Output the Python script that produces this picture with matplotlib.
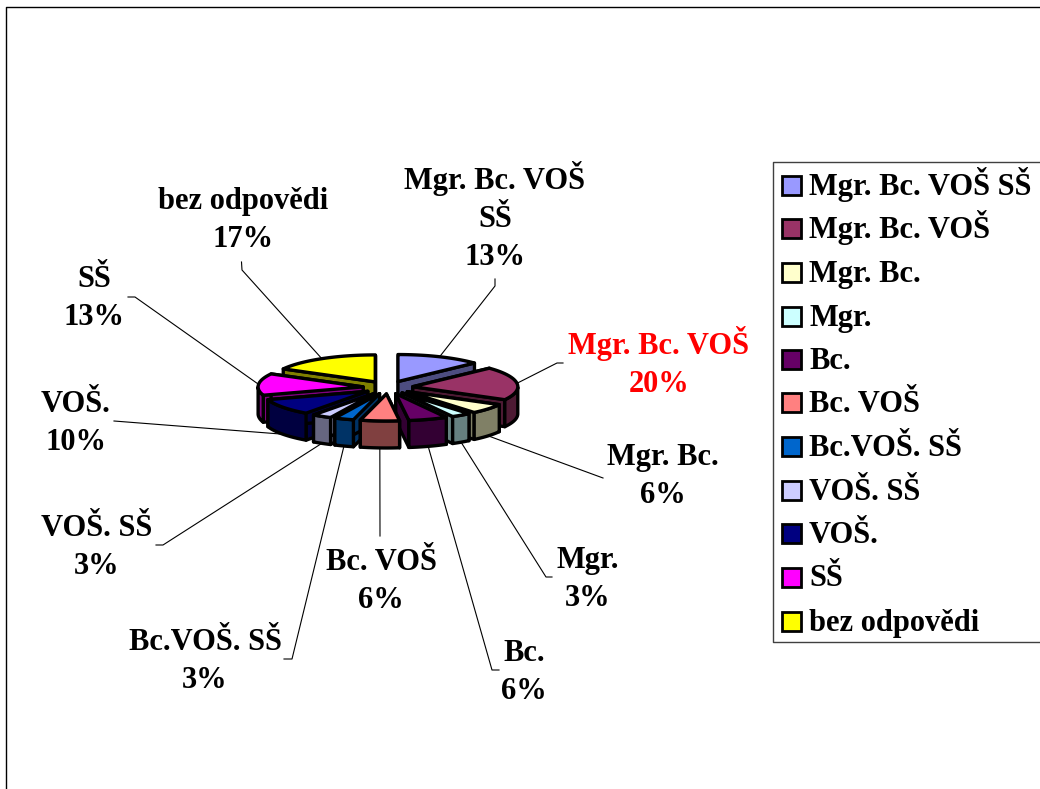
import numpy as np
import matplotlib
matplotlib.use('Agg')
import matplotlib.pyplot as plt
from matplotlib.patches import Polygon, Rectangle
from matplotlib.colors import to_rgb

categories = ['Mgr. Bc. VOŠ SŠ', 'Mgr. Bc. VOŠ', 'Mgr. Bc.', 'Mgr.', 'Bc.', 'Bc. VOŠ',
              'Bc.VOŠ. SŠ', 'VOŠ. SŠ', 'VOŠ.', 'SŠ', 'bez odpovědi']
values = [13, 20, 6, 3, 6, 6, 3, 3, 10, 13, 17]
colors = ['#9999FF', '#993366', '#FFFFCC', '#CCFFFF', '#660066', '#FF8080',
          '#0066CC', '#CCCCFF', '#000080', '#FF00FF', '#FFFF00']
pie_labels = ['Mgr. Bc. VOŠ\nSŠ\n13%', 'Mgr. Bc. VOŠ\n20%', 'Mgr. Bc.\n6%', 'Mgr.\n3%', 'Bc.\n6%',
              'Bc. VOŠ\n6%', 'Bc.VOŠ. SŠ\n3%', 'VOŠ. SŠ\n3%', 'VOŠ.\n10%', 'SŠ\n13%',
              'bez odpovědi\n17%']

# layout in pixels of the 1040x789 picture
CX, CY = 388, 387.5
RX, RY = 105, 27
EXPLODE_X, EXPLODE_Y = 25, 6.5
DEPTH = 27
FONT = 'Liberation Serif'
FONT_SIZE = 22
EDGE = 2.4
# label centre x and baseline of the last line
label_pos = [(495, 265), (659, 392), (663, 503), (588, 606), (524, 699), (381, 608),
             (205, 688), (97, 574), (76, 450), (94, 325), (243, 247)]
# where each leader line meets its label, elbow first when there is one
leader_ends = [[(495, 286), (495, 279)], [(557, 363), (563, 363)], [(603, 478)],
               [(546, 577), (552, 577)], [(492, 670), (499, 670)], [(380, 536)],
               [(292, 659), (284, 659)], [(163, 545), (156, 545)], [(114, 421)],
               [(135, 297), (128, 297)], [(242, 270), (241.5, 262)]]
legend_rows = [185, 228, 272, 316, 359.5, 402.5, 446.5, 490, 533.5, 577, 621.5]


def rim(theta, ox, oy):
    return ox + RX * np.sin(theta), oy - RY * np.cos(theta)


def draw_slice(ax, start, stop, color):
    mid = (start + stop) / 2
    ox = CX + EXPLODE_X * np.sin(mid)
    oy = CY - EXPLODE_Y * np.cos(mid)
    thetas = np.linspace(start, stop, 40)
    xs, ys = rim(thetas, ox, oy)
    top = np.column_stack([np.r_[ox, xs], np.r_[oy, ys]])
    side = tuple(c * 0.5 for c in to_rgb(color))
    style = dict(edgecolor='black', linewidth=EDGE, joinstyle='round', facecolor=side)
    # radial walls first, the top of the slice covers what is behind
    for x, y in ((xs[0], ys[0]), (xs[-1], ys[-1])):
        wall = [(ox, oy), (x, y), (x, y + DEPTH), (ox, oy + DEPTH)]
        ax.add_patch(Polygon(wall, closed=True, **style))
    # outer wall only for the part of the rim that faces the viewer
    front = thetas[np.cos(thetas) <= 0]
    if len(front) > 1:
        fx, fy = rim(front, ox, oy)
        outer = np.column_stack([np.r_[fx, fx[::-1]], np.r_[fy, fy[::-1] + DEPTH]])
        ax.add_patch(Polygon(outer, closed=True, **style))
    ax.add_patch(Polygon(top, closed=True, edgecolor='black', linewidth=EDGE,
                         joinstyle='round', facecolor=color))


def main():
    fig = plt.figure(figsize=(10.4, 7.89), dpi=100)
    ax = fig.add_axes([0, 0, 1, 1])
    ax.set_xlim(0, 1040)
    ax.set_ylim(789, 0)
    ax.axis('off')

    # outer chart frame, runs off the right and bottom of the picture
    ax.plot([5.5, 5.5, 1040], [789, 6.5, 6.5], color='black', lw=1)

    edges = np.cumsum([0] + values) / sum(values) * 2 * np.pi
    slices = list(zip(edges[:-1], edges[1:], colors))

    # leader lines, from the rim of each slice
    for (start, stop, _), ends in zip(slices, leader_ends):
        mid = (start + stop) / 2
        ox = CX + EXPLODE_X * np.sin(mid)
        oy = CY - EXPLODE_Y * np.cos(mid)
        x0, y0 = rim(mid, ox, oy)
        if np.cos(mid) < 0:
            y0 += DEPTH
        pts = [(x0, y0)] + ends
        ax.plot([p[0] for p in pts], [p[1] for p in pts], color='black', lw=0.8, zorder=1)

    # back to front
    for start, stop, color in sorted(slices, key=lambda s: -np.cos((s[0] + s[1]) / 2)):
        draw_slice(ax, start, stop, color)

    for i, (label, (x, y)) in enumerate(zip(pie_labels, label_pos)):
        ax.text(x, y, label, ha='center', va='baseline', family=FONT, weight='bold',
                fontsize=FONT_SIZE, linespacing=1.4, color='red' if i == 1 else 'black')

    # legend, box open at the right edge
    ax.plot([1040, 772.5, 772.5, 1040], [161.5, 161.5, 641.5, 641.5], color='#404040', lw=1)
    for name, color, y in zip(categories, colors, legend_rows):
        ax.add_patch(Rectangle((782, y - 9.5), 19, 19, facecolor=color, edgecolor='black', lw=2))
        ax.text(809, y + 9.5, name, ha='left', va='baseline', family=FONT, weight='bold',
                fontsize=FONT_SIZE)

    fig.savefig('out.png', dpi=100)


if __name__ == '__main__':
    main()
